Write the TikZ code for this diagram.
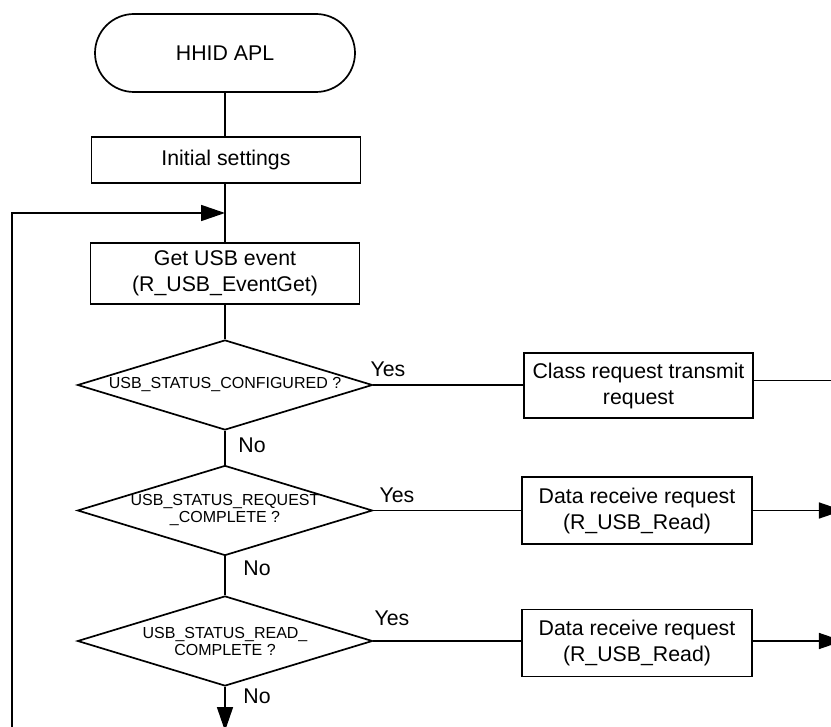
\documentclass[tikz,border=0pt]{standalone}
\usepackage{fontspec}
\setmainfont{Liberation Sans}
\usetikzlibrary{shapes.geometric,arrows.meta}
\begin{document}
\begin{tikzpicture}[x=1pt,y=-1pt,
  line width=1.7pt,
  box/.style={draw, rectangle, align=center, font=\fontsize{21.3}{26}\selectfont, inner sep=0pt},
  term/.style={draw, rectangle, rounded corners=39pt, minimum width=260pt, minimum height=78pt, font=\fontsize{21.3}{26}\selectfont},
  dec/.style={draw, diamond, aspect=3.278, align=center, inner sep=0pt, minimum width=295pt, minimum height=90pt, font=\fontsize{16}{17}\selectfont},
  lbl/.style={font=\fontsize{21.3}{26}\selectfont, anchor=base, inner sep=0pt},
  arr/.style={-{Triangle[length=24pt,width=16pt]}},
]
\clip (0,0) rectangle (831,727);
\node[term] (t) at (225,53) {HHID APL};
\node[box, minimum width=269pt, minimum height=46pt] (init) at (226,160) {Initial settings};
\node[box, minimum width=269pt, minimum height=61pt] (get) at (225,273.5) {Get USB event\\(R\_USB\_EventGet)};
\node[dec] (d1) at (225,385) {USB\_STATUS\_CONFIGURED ?};
\node[dec] (d2) at (225,510.5) {USB\_STATUS\_REQUEST\\\_COMPLETE ?};
\node[dec] (d3) at (225,641) {USB\_STATUS\_READ\_\\COMPLETE ?};
\node[box, minimum width=229pt, minimum height=65pt] (class) at (638.5,385.5) {Class request transmit\\request};
\node[box, minimum width=230pt, minimum height=67pt] (data1) at (637,510.5) {Data receive request\\(R\_USB\_Read)};
\node[box, minimum width=230pt, minimum height=67pt] (data2) at (637,643) {Data receive request\\(R\_USB\_Read)};
\node[lbl] (y1) at (388,377) {Yes};
\node[lbl] (y2) at (397,503) {Yes};
\node[lbl] (y3) at (392,625) {Yes};
\node[lbl] (n1) at (252,453) {No};
\node[lbl] (n2) at (257,575) {No};
\node[lbl] (n3) at (257,703) {No};
\coordinate (join) at (225,213);
\coordinate (loopbot) at (12,740);
\coordinate (down) at (225,731);
\draw (t.south) -- (t.south |- init.north);
\draw (t.south |- init.south) -- (get.north);
\draw[arr] (loopbot) |- (join);
\draw (get) -- (d1);
\draw (d1) -- (d2);
\draw (d2) -- (d3);
\draw[arr] (d3.south) -- (down);
\draw (d1.east) -- (d1.east -| class.west);
\draw ([yshift=5pt]class.east) -- ++(100,0);
\draw (d2.east) -- (d2.east -| data1.west);
\draw[arr] (data1.east) -- ++(90,0);
\draw (d3.east) -- (d3.east -| data2.west);
\draw[arr] (d3.east -| data2.east) -- ++(90,0);
\end{tikzpicture}
\end{document}
